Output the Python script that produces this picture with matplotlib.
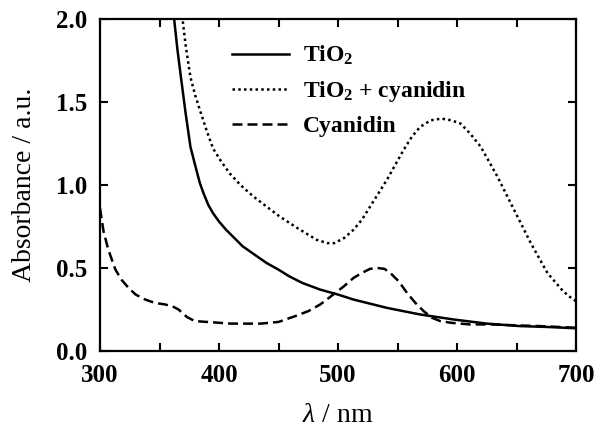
import matplotlib
matplotlib.use("Agg")
import matplotlib.pyplot as plt
from matplotlib.ticker import MultipleLocator

# valores
wl_tio2 = [362, 365, 368, 372, 376, 381, 384, 387, 391, 395, 400, 406, 413, 420,
           430, 440, 450, 459, 470, 485, 500, 513, 541, 569, 597, 625, 653, 675, 700]
abs_tio2 = [2.02, 1.82, 1.65, 1.43, 1.23, 1.09, 1.01, 0.95, 0.88, 0.83, 0.78, 0.73,
            0.68, 0.63, 0.58, 0.53, 0.49, 0.45, 0.41, 0.37, 0.34, 0.31, 0.26, 0.22,
            0.19, 0.165, 0.15, 0.145, 0.137]

wl_mix = [369, 372, 376, 380, 384, 390, 395, 402, 409, 418, 429, 440, 451, 466,
          482, 491, 497, 505, 513, 520, 527, 534, 541, 548, 555, 562, 569, 578,
          587, 595, 603, 611, 620, 627, 634, 641, 648, 655, 662, 669, 676, 682,
          688, 694, 700]
abs_mix = [2.02, 1.84, 1.65, 1.54, 1.45, 1.32, 1.22, 1.14, 1.07, 1.00, 0.93, 0.87,
           0.81, 0.74, 0.67, 0.65, 0.65, 0.68, 0.73, 0.79, 0.87, 0.95, 1.03, 1.12,
           1.21, 1.29, 1.35, 1.39, 1.40, 1.39, 1.37, 1.31, 1.23, 1.14, 1.05, 0.95,
           0.85, 0.75, 0.65, 0.56, 0.47, 0.42, 0.37, 0.33, 0.30]

wl_cy = [300, 303, 307, 310, 313, 318, 324, 330, 338, 346, 355, 362, 366, 370,
         373, 377, 380, 390, 400, 410, 422, 435, 450, 464, 475, 485, 496, 505,
         513, 520, 527, 533, 539, 544, 551, 558, 565, 572, 579, 586, 595, 611,
         630, 648, 670, 700]
abs_cy = [0.86, 0.72, 0.61, 0.55, 0.49, 0.43, 0.38, 0.34, 0.31, 0.29, 0.28, 0.265,
          0.25, 0.225, 0.205, 0.19, 0.18, 0.175, 0.17, 0.165, 0.165, 0.165, 0.175,
          0.21, 0.24, 0.28, 0.34, 0.39, 0.44, 0.47, 0.495, 0.50, 0.495, 0.47,
          0.42, 0.35, 0.29, 0.24, 0.20, 0.18, 0.17, 0.16, 0.16, 0.155, 0.15, 0.14]

etiquetas = [r"TiO$_2$", r"TiO$_2$ + cyanidin", "Cyanidin"]

plt.rcParams["font.family"] = ["Liberation Serif", "DejaVu Serif"]
plt.rcParams["mathtext.fontset"] = "custom"
plt.rcParams["mathtext.rm"] = "Liberation Serif:bold"
plt.rcParams["mathtext.bf"] = "Liberation Serif:bold"
plt.rcParams["mathtext.it"] = "Liberation Serif:italic"
plt.rcParams["mathtext.default"] = "rm"

fig = plt.figure(figsize=(5.97, 4.28), dpi=100)
ax = fig.add_axes([100 / 597, 77 / 428, 476 / 597, 332 / 428])

ax.plot(wl_tio2, abs_tio2, color="black", lw=1.8, label=etiquetas[0])
ax.plot(wl_mix, abs_mix, color="black", lw=1.8, linestyle=(0, (1, 1.3)),
        label=etiquetas[1])
ax.plot(wl_cy, abs_cy, color="black", lw=1.8, linestyle=(0, (4, 2)),
        label=etiquetas[2])

ax.set_xlim(300, 700)
ax.set_ylim(0, 2.0)
ax.xaxis.set_major_locator(MultipleLocator(100))
ax.xaxis.set_minor_locator(MultipleLocator(50))
ax.yaxis.set_major_locator(MultipleLocator(0.5))
ax.yaxis.set_major_formatter(plt.FuncFormatter(lambda v, p: f"{v:.1f}"))

ax.tick_params(which="both", direction="in", top=True, right=True, width=1.5)
ax.tick_params(which="major", length=6, pad=9)
ax.tick_params(which="minor", length=6)
for lab in ax.get_xticklabels() + ax.get_yticklabels():
    lab.set_fontweight("bold")
    lab.set_fontsize(18)
for sp in ax.spines.values():
    sp.set_linewidth(1.6)

ax.set_xlabel(r"$\mathit{\lambda}$ / nm", fontsize=20, labelpad=12)
ax.set_ylabel("Absorbance / a.u.", fontsize=20, labelpad=14)

ax.legend(loc="upper left", bbox_to_anchor=(0.277, 0.925), frameon=False,
          borderpad=0, borderaxespad=0, handlelength=2.4, handletextpad=0.6,
          labelspacing=0.5, prop={"weight": "bold", "size": 17})

fig.savefig("out.png", dpi=100)
